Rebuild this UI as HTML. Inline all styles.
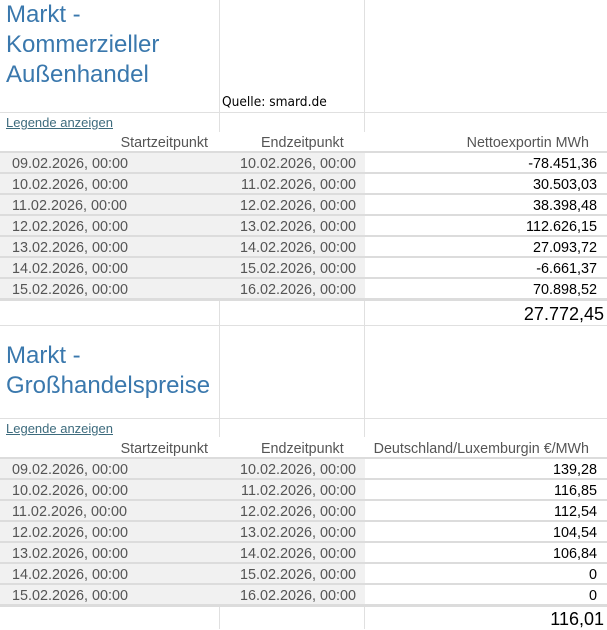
<!DOCTYPE html>
<html><head><meta charset="utf-8"><style>
body{margin:0;width:607px;height:629px;background:#fff;position:relative;overflow:hidden;font-family:"Liberation Sans",Arial,sans-serif;}
div{position:absolute;}
.vl{width:1px;background:#e0e0e0;}
.hl{height:1px;background:#e0e0e0;left:0;width:607px;}
.t{color:#3a78ad;font-size:24px;left:6px;line-height:30px;}
.lg{left:6px;font-size:13px;color:#3d6b7d;text-decoration:underline;}
.h{font-size:14.3px;color:#555;top:0;}
.row{left:0;width:607px;height:21px;}
.bg{left:0;width:365px;height:19px;background:#f1f1f1;top:0;}
.sep{left:0;width:607px;height:2px;background:#dcdcdc;top:19px;}
.c{font-size:14.4px;color:#555;top:2px;line-height:18px;}
.a{left:12px;}
.b{right:251px;}
.v{right:10px;color:#000;}
.tot{font-size:18px;color:#000;right:3px;}
</style></head><body>
<div class="vl" style="left:219px;top:0;height:132px"></div>
<div class="vl" style="left:364px;top:0;height:132px"></div>
<div class="hl" style="top:112px"></div>
<div class="t" style="top:0">Markt -<br>Kommerzieller<br>Außenhandel</div>
<div style="left:222px;top:94px;font-size:13.6px;color:#000;font-family:'DejaVu Sans Condensed','Liberation Sans',sans-serif">Quelle: smard.de</div>
<div class="lg" style="top:115px">Legende anzeigen</div>
<div class="h" style="top:135px;right:399px">Startzeitpunkt</div>
<div class="h" style="top:135px;left:261px">Endzeitpunkt</div>
<div class="h" style="top:135px;right:18px">Nettoexportin MWh</div>
<div style="left:0;top:151px;width:607px;height:2px;background:#dcdcdc"></div>

<div class="row" style="top:153px"><div class="bg"></div><div class="sep"></div><div class="c a">09.02.2026, 00:00</div><div class="c b">10.02.2026, 00:00</div><div class="c v">-78.451,36</div></div>
<div class="row" style="top:174px"><div class="bg"></div><div class="sep"></div><div class="c a">10.02.2026, 00:00</div><div class="c b">11.02.2026, 00:00</div><div class="c v">30.503,03</div></div>
<div class="row" style="top:195px"><div class="bg"></div><div class="sep"></div><div class="c a">11.02.2026, 00:00</div><div class="c b">12.02.2026, 00:00</div><div class="c v">38.398,48</div></div>
<div class="row" style="top:216px"><div class="bg"></div><div class="sep"></div><div class="c a">12.02.2026, 00:00</div><div class="c b">13.02.2026, 00:00</div><div class="c v">112.626,15</div></div>
<div class="row" style="top:237px"><div class="bg"></div><div class="sep"></div><div class="c a">13.02.2026, 00:00</div><div class="c b">14.02.2026, 00:00</div><div class="c v">27.093,72</div></div>
<div class="row" style="top:258px"><div class="bg"></div><div class="sep"></div><div class="c a">14.02.2026, 00:00</div><div class="c b">15.02.2026, 00:00</div><div class="c v">-6.661,37</div></div>
<div class="row" style="top:279px"><div class="bg"></div><div class="sep" style="height:3px"></div><div class="c a">15.02.2026, 00:00</div><div class="c b">16.02.2026, 00:00</div><div class="c v">70.898,52</div></div>

<div class="vl" style="left:219px;top:301px;height:136px"></div>
<div class="vl" style="left:364px;top:301px;height:136px"></div>
<div class="tot" style="top:304px">27.772,45</div>
<div class="hl" style="top:325px"></div>
<div class="t" style="top:341px">Markt -<br>Großhandelspreise</div>
<div class="hl" style="top:418px"></div>
<div class="lg" style="top:421px">Legende anzeigen</div>
<div class="h" style="top:441px;right:399px">Startzeitpunkt</div>
<div class="h" style="top:441px;left:261px">Endzeitpunkt</div>
<div class="h" style="top:441px;right:18px">Deutschland/Luxemburgin €/MWh</div>
<div style="left:0;top:457px;width:607px;height:2px;background:#dcdcdc"></div>

<div class="row" style="top:459px"><div class="bg"></div><div class="sep"></div><div class="c a">09.02.2026, 00:00</div><div class="c b">10.02.2026, 00:00</div><div class="c v">139,28</div></div>
<div class="row" style="top:480px"><div class="bg"></div><div class="sep"></div><div class="c a">10.02.2026, 00:00</div><div class="c b">11.02.2026, 00:00</div><div class="c v">116,85</div></div>
<div class="row" style="top:501px"><div class="bg"></div><div class="sep"></div><div class="c a">11.02.2026, 00:00</div><div class="c b">12.02.2026, 00:00</div><div class="c v">112,54</div></div>
<div class="row" style="top:522px"><div class="bg"></div><div class="sep"></div><div class="c a">12.02.2026, 00:00</div><div class="c b">13.02.2026, 00:00</div><div class="c v">104,54</div></div>
<div class="row" style="top:543px"><div class="bg"></div><div class="sep"></div><div class="c a">13.02.2026, 00:00</div><div class="c b">14.02.2026, 00:00</div><div class="c v">106,84</div></div>
<div class="row" style="top:564px"><div class="bg"></div><div class="sep"></div><div class="c a">14.02.2026, 00:00</div><div class="c b">15.02.2026, 00:00</div><div class="c v">0</div></div>
<div class="row" style="top:585px"><div class="bg"></div><div class="sep" style="height:3px"></div><div class="c a">15.02.2026, 00:00</div><div class="c b">16.02.2026, 00:00</div><div class="c v">0</div></div>

<div class="vl" style="left:219px;top:607px;height:22px"></div>
<div class="vl" style="left:364px;top:607px;height:22px"></div>
<div class="tot" style="top:609px">116,01</div>
</body></html>
